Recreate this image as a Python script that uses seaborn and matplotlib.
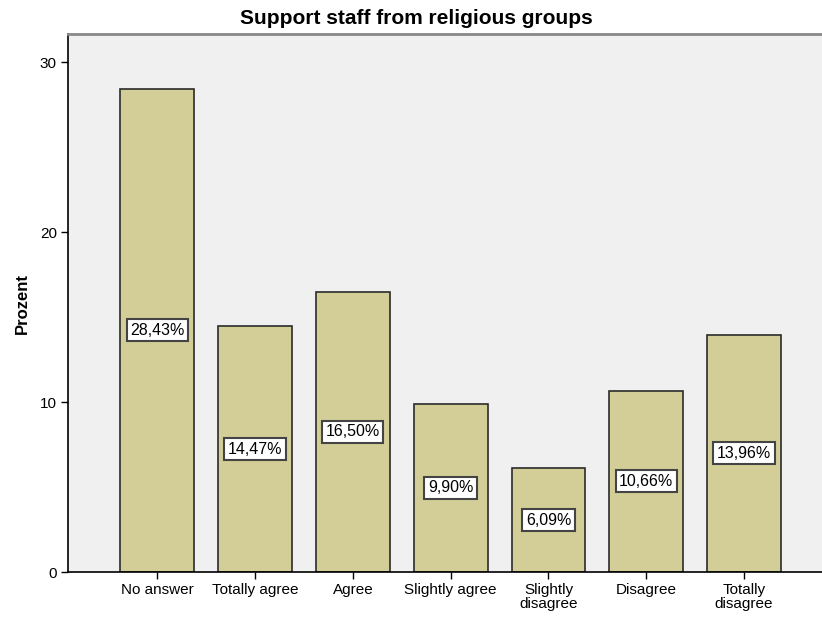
import numpy as np
import pandas as pd
import matplotlib
matplotlib.use("Agg")
import matplotlib.pyplot as plt
import seaborn as sns

categories = ["No answer", "Totally agree", "Agree", "Slightly agree",
              "Slightly\ndisagree", "Disagree", "Totally\ndisagree"]
percent = [28.43, 14.47, 16.50, 9.90, 6.09, 10.66, 13.96]
labels = ["28,43%", "14,47%", "16,50%", "9,90%", "6,09%", "10,66%", "13,96%"]

df = pd.DataFrame({"category": categories, "percent": percent})

sns.set_style("white")
plt.rcParams["font.family"] = ["Liberation Sans", "DejaVu Sans"]
plt.rcParams["text.color"] = "black"
plt.rcParams["xtick.color"] = "black"
plt.rcParams["ytick.color"] = "black"
plt.rcParams["axes.labelcolor"] = "black"

fig = plt.figure(figsize=(8.22, 6.17), dpi=100)
ax = fig.add_axes([0.0827, 0.0729, 0.92, 0.872])
ax.set_facecolor("#F0F0F0")

sns.barplot(data=df, x="category", y="percent", color="#D3CE97",
            saturation=1, width=0.755, edgecolor="#2b2b2b", linewidth=1.2, ax=ax)

for i, (v, lab) in enumerate(zip(percent, labels)):
    ax.text(i, v / 2, lab, ha="center", va="center", fontsize=11.5,
            bbox=dict(boxstyle="square,pad=0.22", facecolor="white",
                      edgecolor="#444444", linewidth=1.5))

ax.set_ylim(0, 31.65)
ax.set_xlim(-0.913, 6.82)
ax.set_yticks([0, 10, 20, 30])
ax.tick_params(axis="both", length=5, width=1, labelsize=11, pad=3, left=True, bottom=True)
for t in ax.get_xticklabels():
    t.set_linespacing(1.02)
ax.set_xlabel("")
ax.set_ylabel("Prozent", fontsize=12, fontweight="bold", labelpad=7)
ax.set_title("Support staff from religious groups", fontsize=15, fontweight="bold",
             pad=7, x=(416 - 68) / 756.0)

for s in ["left", "bottom"]:
    ax.spines[s].set_color("black")
    ax.spines[s].set_linewidth(1.2)
ax.spines["top"].set_color("#888888")
ax.spines["top"].set_linewidth(2)
ax.spines["right"].set_visible(False)

fig.savefig("out.png", dpi=100)
